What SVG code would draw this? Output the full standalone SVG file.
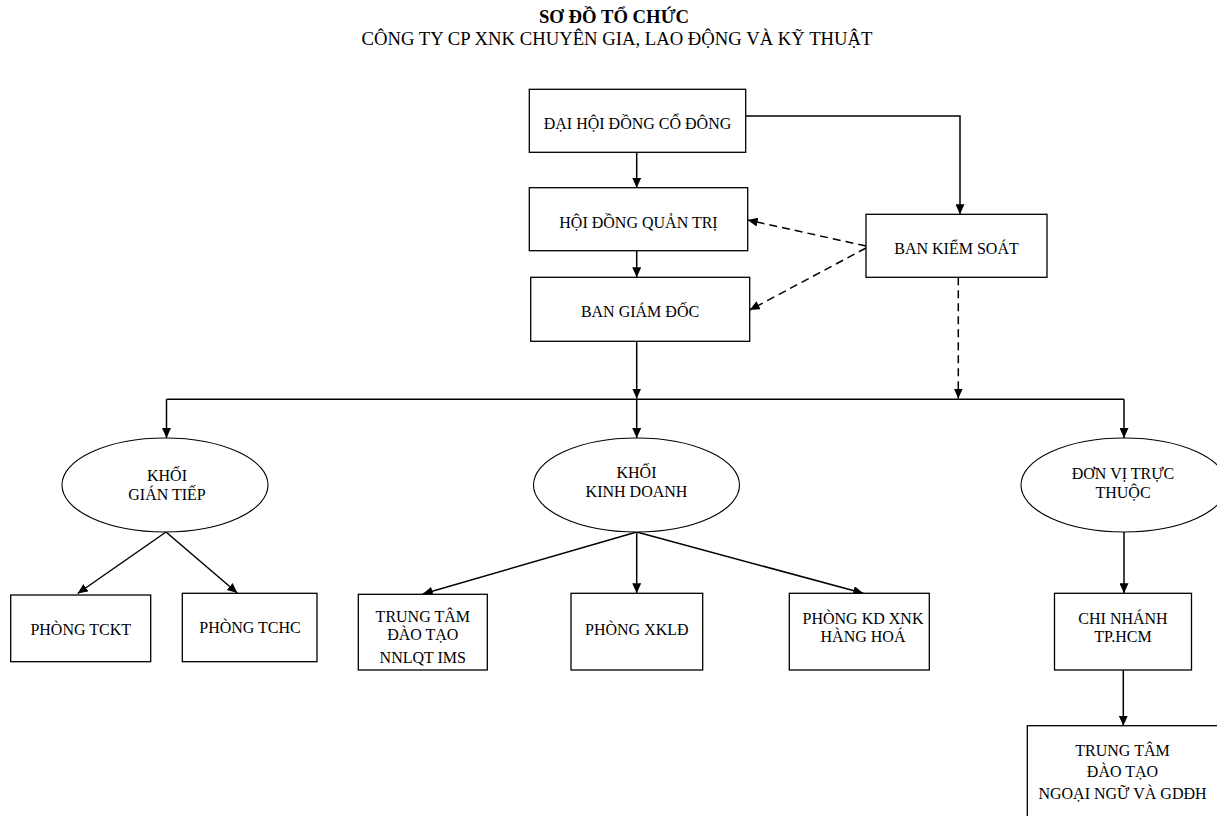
<svg xmlns="http://www.w3.org/2000/svg" width="1217" height="816" viewBox="0 0 1217 816">
<style>
text{font-family:"Liberation Serif","Times New Roman",serif;font-size:16px;fill:#000;text-anchor:middle}
.title{font-size:18.7px}
.b{font-weight:bold}
.box{fill:#fff;stroke:#000;stroke-width:1.3}
.ell{fill:#fff;stroke:#000;stroke-width:1.1}
.c{fill:none;stroke:#000;stroke-width:1.5}
.d{fill:none;stroke:#000;stroke-width:1.5;stroke-dasharray:8 5}
</style>
<defs>
<marker id="ah" markerUnits="userSpaceOnUse" markerWidth="11" markerHeight="9" refX="10" refY="4.5" orient="auto" viewBox="0 0 11 9">
<path d="M0,0 L10,4.5 L0,9 z" fill="#000"/>
</marker>
</defs>
<rect width="1217" height="816" fill="#fff"/>
<g id="title">
<text class="title b" x="614" y="23">SƠ ĐỒ TỔ CHỨC</text>
<text class="title" x="617" y="45">CÔNG TY CP XNK CHUYÊN GIA, LAO ĐỘNG VÀ KỸ THUẬT</text>
</g>
<g id="connectors">
<path class="c" d="M636.7,152.3 V187.7" marker-end="url(#ah)"/>
<path class="c" d="M636.7,250.7 V277.3" marker-end="url(#ah)"/>
<path class="c" d="M745.7,116 H960 V214.3" marker-end="url(#ah)"/>
<path class="d" d="M866,246 L747.7,220" marker-end="url(#ah)"/>
<path class="d" d="M866,248 L749.7,310" marker-end="url(#ah)"/>
<path class="d" d="M958.3,277.3 V398.5" marker-end="url(#ah)"/>
<path class="c" d="M636.7,341.3 V398.5" marker-end="url(#ah)"/>
<path class="c" d="M166.5,399.3 H1124"/>
<path class="c" d="M166.5,399.3 V438" marker-end="url(#ah)"/>
<path class="c" d="M636.7,399.3 V438" marker-end="url(#ah)"/>
<path class="c" d="M1124,399.3 V438" marker-end="url(#ah)"/>
<path class="c" d="M166,532 L77.7,593.5" marker-end="url(#ah)"/>
<path class="c" d="M166,532 L237.3,593" marker-end="url(#ah)"/>
<path class="c" d="M636.7,532 L422.7,594" marker-end="url(#ah)"/>
<path class="c" d="M636.7,532 V593.3" marker-end="url(#ah)"/>
<path class="c" d="M636.7,532 L863.3,593.3" marker-end="url(#ah)"/>
<path class="c" d="M1124,532 V593.3" marker-end="url(#ah)"/>
<path class="c" d="M1123.3,670 V725.7" marker-end="url(#ah)"/>
</g>
<g id="dhdcd">
<rect class="box" x="529.3" y="89.3" width="216.4" height="63"/>
<text x="637.5" y="129.3">ĐẠI HỘI ĐỒNG CỔ ĐÔNG</text>
</g>
<g id="hdqt">
<rect class="box" x="529.3" y="187.7" width="218.4" height="63"/>
<text x="638.5" y="227.7">HỘI ĐỒNG QUẢN TRỊ</text>
</g>
<g id="bgd">
<rect class="box" x="530.7" y="277.3" width="219" height="64"/>
<text x="640" y="317.3">BAN GIÁM ĐỐC</text>
</g>
<g id="bks">
<rect class="box" x="866" y="214.3" width="181" height="63"/>
<text x="956.5" y="254.3">BAN KIỂM SOÁT</text>
</g>
<g id="khoi-gian-tiep">
<ellipse class="ell" cx="165" cy="485" rx="103" ry="47"/>
<text x="167" y="481">KHỐI</text>
<text x="167" y="500">GIÁN TIẾP</text>
</g>
<g id="khoi-kinh-doanh">
<ellipse class="ell" cx="636.5" cy="485" rx="103" ry="47"/>
<text x="636.5" y="478">KHỐI</text>
<text x="636.5" y="497">KINH DOANH</text>
</g>
<g id="don-vi-truc-thuoc">
<ellipse class="ell" cx="1124" cy="485" rx="103" ry="47"/>
<text x="1123" y="479">ĐƠN VỊ TRỰC</text>
<text x="1123" y="498">THUỘC</text>
</g>
<g id="phong-tckt">
<rect class="box" x="10.7" y="595" width="140" height="66.7"/>
<text x="80.7" y="635">PHÒNG TCKT</text>
</g>
<g id="phong-tchc">
<rect class="box" x="182.3" y="593.3" width="134.7" height="68.4"/>
<text x="250" y="632.7">PHÒNG TCHC</text>
</g>
<g id="trung-tam-ims">
<rect class="box" x="358.3" y="594.3" width="129" height="75.7"/>
<text x="422.8" y="621.7">TRUNG TÂM</text>
<text x="422.8" y="640">ĐÀO TẠO</text>
<text x="422.8" y="662.7">NNLQT IMS</text>
</g>
<g id="phong-xkld">
<rect class="box" x="571" y="593.3" width="131.7" height="76.7"/>
<text x="636.8" y="635">PHÒNG XKLĐ</text>
</g>
<g id="phong-kd-xnk">
<rect class="box" x="789.3" y="593.3" width="140" height="76.7"/>
<text x="863" y="624">PHÒNG KD XNK</text>
<text x="863" y="641.7">HÀNG HOÁ</text>
</g>
<g id="chi-nhanh">
<rect class="box" x="1054.5" y="593.3" width="137" height="76.7"/>
<text x="1123" y="624">CHI NHÁNH</text>
<text x="1123" y="642">TP.HCM</text>
</g>
<g id="trung-tam-ngoai-ngu">
<rect class="box" x="1027.3" y="725.7" width="200" height="100"/>
<text x="1122.5" y="755.7">TRUNG TÂM</text>
<text x="1122.5" y="777">ĐÀO TẠO</text>
<text x="1122.5" y="799.3">NGOẠI NGỮ VÀ GDĐH</text>
</g>
</svg>
